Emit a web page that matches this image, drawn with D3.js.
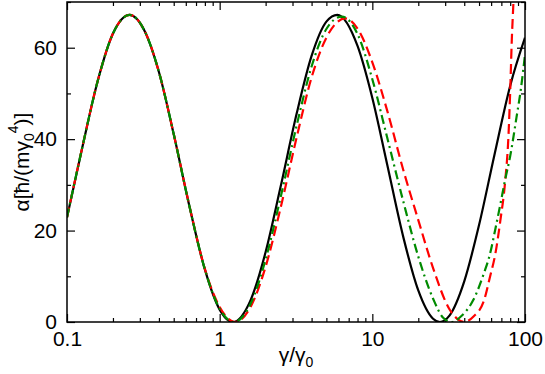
<!DOCTYPE html>
<html>
<head>
<meta charset="utf-8">
<script src="https://cdn.jsdelivr.net/npm/d3@7"></script>
<style>
  html, body { margin: 0; padding: 0; background: #fff; }
  svg { display: block; }
  text { font-family: "Liberation Sans", Arial, sans-serif; fill: #000; }
</style>
</head>
<body>
<div id="chart"></div>
<script>
// values
const gammaBlack = [0.1, 0.125, 0.16, 0.2, 0.257, 0.32, 0.4, 0.5, 0.63, 0.8, 1, 1.22, 1.6, 2, 2.5, 3.2, 4, 5, 5.9, 8, 10, 12.5, 16, 20, 25, 27.7, 32, 40, 50, 63, 80, 100];
const alphaBlack = [22.9, 37.7, 53.1, 63.1, 67.2, 63.9, 54.7, 41.1, 25.7, 11.5, 2.7, 0, 4.9, 15.3, 29.4, 45.7, 58.2, 65.7, 67.2, 60.4, 49.0, 34.5, 18.4, 6.9, 0.7, 0, 1.4, 8.9, 21.2, 36.5, 51.7, 62.2];

const gammaGreen = [0.1, 0.125, 0.16, 0.2, 0.257, 0.32, 0.4, 0.5, 0.63, 0.8, 1, 1.24, 1.6, 2, 2.5, 3.2, 4, 5, 6.3, 8, 10, 12.5, 16, 20, 25, 29, 33, 38, 46, 54, 59, 64, 69, 74, 80, 88, 94, 100];
const alphaGreen = [22.9, 37.7, 53.1, 63.1, 67.2, 63.9, 54.7, 41.1, 25.7, 11.5, 2.9, 0, 4.1, 13.7, 27.1, 43.1, 55.9, 64.1, 66.8, 63.0, 53.1, 40.4, 26.2, 14.3, 5.1, 1.0, 0, 1.2, 4.9, 10.8, 14.9, 20.4, 25.8, 31.0, 36.3, 44.8, 51.0, 58.5];

const gammaRed = [0.1, 0.125, 0.16, 0.2, 0.257, 0.32, 0.4, 0.5, 0.63, 0.8, 1, 1.26, 1.6, 2, 2.5, 3.2, 4, 5, 6.65, 8, 10, 12.5, 16, 20, 25, 32, 36, 40, 46, 54, 59, 64, 69, 74, 78, 80, 82, 84, 86];
const alphaRed = [22.9, 37.7, 53.1, 63.1, 67.2, 63.9, 54.7, 41.1, 25.8, 11.6, 3.3, 0, 3.4, 12.1, 24.8, 40.5, 53.5, 62.2, 66.4, 64.2, 56.8, 46.3, 33.1, 22.3, 11.8, 2.8, 0.7, 0, 1.2, 4.8, 9.9, 15.0, 22.3, 30.5, 41, 50.5, 62, 70, 79];

const xMajorTicks = [0.1, 1, 10, 100];
const xTickLabels = ['0.1', '1', '10', '100'];
const yMajorTicks = [0, 20, 40, 60];
const yMinorTicks = [10, 30, 50, 70];

const width = 545;
const height = 374;
const margin = { top: 2, right: 20, bottom: 52, left: 67 };
const innerW = width - margin.left - margin.right;
const innerH = height - margin.top - margin.bottom;

const svg = d3.select('#chart')
    .append('svg')
    .attr('width', width)
    .attr('height', height);

const g = svg.append('g')
    .attr('transform', `translate(${margin.left},${margin.top})`);

const x = d3.scaleLog()
    .domain([0.1, 100])
    .range([0, innerW]);

const y = d3.scaleLinear()
    .domain([0, 70])
    .range([innerH, 0]);

// minor ticks 2..9 in each decade
const xMinorTicks = [];
[0.1, 1, 10].forEach(d => {
    for (let k = 2; k <= 9; k++) xMinorTicks.push(+(d * k).toPrecision(3));
});

svg.append('defs').append('clipPath')
    .attr('id', 'plot-clip')
    .append('rect')
    .attr('width', innerW)
    .attr('height', innerH);

function styleAxis(sel) {
    sel.select('.domain').remove();
    sel.selectAll('.tick line').attr('stroke', '#000').attr('stroke-width', 1.2);
    sel.selectAll('.tick text').style('font-size', '21px').attr('fill', '#000');
}

// bottom axis with labels
g.append('g')
    .attr('transform', `translate(0,${innerH})`)
    .call(d3.axisBottom(x).tickValues(xMajorTicks)
        .tickFormat((d, i) => xTickLabels[i])
        .tickSizeInner(-8).tickSizeOuter(0).tickPadding(9))
    .call(styleAxis);

g.append('g')
    .attr('transform', `translate(0,${innerH})`)
    .call(d3.axisBottom(x).tickValues(xMinorTicks).tickFormat('')
        .tickSizeInner(-4).tickSizeOuter(0))
    .call(styleAxis);

// top mirror
g.append('g')
    .call(d3.axisTop(x).tickValues(xMajorTicks).tickFormat('')
        .tickSizeInner(-8).tickSizeOuter(0))
    .call(styleAxis);

g.append('g')
    .call(d3.axisTop(x).tickValues(xMinorTicks).tickFormat('')
        .tickSizeInner(-4).tickSizeOuter(0))
    .call(styleAxis);

// left axis with labels
g.append('g')
    .call(d3.axisLeft(y).tickValues(yMajorTicks)
        .tickSizeInner(-8).tickSizeOuter(0).tickPadding(10))
    .call(styleAxis);

g.append('g')
    .call(d3.axisLeft(y).tickValues(yMinorTicks).tickFormat('')
        .tickSizeInner(-4).tickSizeOuter(0))
    .call(styleAxis);

// right mirror
g.append('g')
    .attr('transform', `translate(${innerW},0)`)
    .call(d3.axisRight(y).tickValues(yMajorTicks).tickFormat('')
        .tickSizeInner(-8).tickSizeOuter(0))
    .call(styleAxis);

g.append('g')
    .attr('transform', `translate(${innerW},0)`)
    .call(d3.axisRight(y).tickValues(yMinorTicks).tickFormat('')
        .tickSizeInner(-4).tickSizeOuter(0))
    .call(styleAxis);

const line = d3.line()
    .x(d => x(d[0]))
    .y(d => y(d[1]))
    .curve(d3.curveMonotoneX);

const series = [
    { gamma: gammaBlack, alpha: alphaBlack, color: '#000', dash: null },
    { gamma: gammaRed, alpha: alphaRed, color: '#ff0000', dash: '10,5' },
    { gamma: gammaGreen, alpha: alphaGreen, color: '#008b00', dash: '9,4,2,4' }
];

const plot = g.append('g').attr('clip-path', 'url(#plot-clip)');

series.forEach(s => {
    plot.append('path')
        .datum(d3.zip(s.gamma, s.alpha))
        .attr('fill', 'none')
        .attr('stroke', s.color)
        .attr('stroke-width', 2.2)
        .attr('stroke-dasharray', s.dash)
        .attr('d', line);
});

// frame
g.append('rect')
    .attr('width', innerW)
    .attr('height', innerH)
    .attr('fill', 'none')
    .attr('stroke', '#000')
    .attr('stroke-width', 1.5);

// axis titles
const xTitle = svg.append('text')
    .attr('x', margin.left + innerW / 2)
    .attr('y', 362)
    .attr('text-anchor', 'middle')
    .style('font-size', '21px');
xTitle.append('tspan').text('γ/γ');
xTitle.append('tspan').attr('dy', 5).style('font-size', '14px').text('0');

const yTitle = svg.append('text')
    .attr('transform', `translate(29,${margin.top + innerH / 2}) rotate(-90)`)
    .attr('text-anchor', 'middle')
    .style('font-size', '21px');
yTitle.append('tspan').text('α[ħ/(mγ');
yTitle.append('tspan').attr('dy', 5).style('font-size', '14px').text('0');
yTitle.append('tspan').attr('dy', -16).style('font-size', '14px').text('4');
yTitle.append('tspan').attr('dy', 11).text(')]');
</script>
</body>
</html>
